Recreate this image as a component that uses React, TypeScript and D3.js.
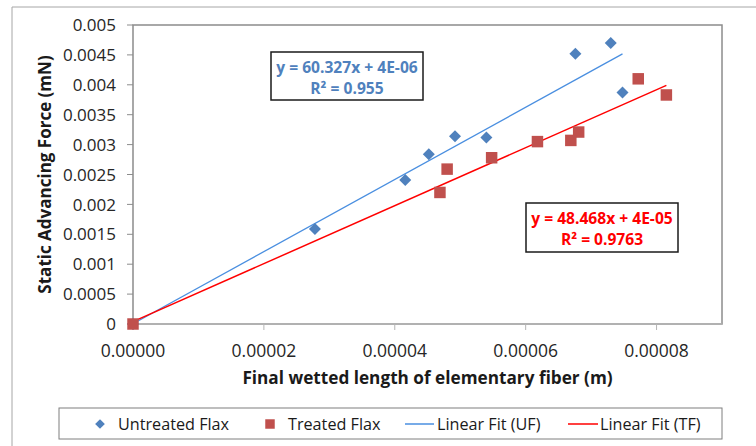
import React from 'react';
import * as d3 from 'd3';

const width = 756;
const height = 446;
const margin = { top: 25, right: 34, bottom: 122, left: 133 };

// Untreated flax (blue diamonds)
const untreatedX = [0, 2.78e-5, 4.16e-5, 4.52e-5, 4.92e-5, 5.4e-5, 6.76e-5, 7.3e-5, 7.48e-5];
const untreatedY = [0, 0.00159, 0.00241, 0.00284, 0.00314, 0.00312, 0.00452, 0.0047, 0.00387];

// Treated flax (red squares)
const treatedX = [0, 4.69e-5, 4.8e-5, 5.48e-5, 6.18e-5, 6.69e-5, 6.81e-5, 7.72e-5, 8.15e-5];
const treatedY = [0, 0.0022, 0.00259, 0.00278, 0.00305, 0.00307, 0.00321, 0.0041, 0.00383];

// linear fits shown in the chart
const ufFit = { slope: 60.327, intercept: 4e-6, label: 'y = 60.327x + 4E-06', r2: 'R² = 0.955' };
const tfFit = { slope: 48.468, intercept: 4e-5, label: 'y = 48.468x + 4E-05', r2: 'R² = 0.9763' };

const xTicks = [0, 0.00002, 0.00004, 0.00006, 0.00008];
const yTicks = [0, 0.0005, 0.001, 0.0015, 0.002, 0.0025, 0.003, 0.0035, 0.004, 0.0045, 0.005];
const yTickLabels = ['0', '0.0005', '0.001', '0.0015', '0.002', '0.0025', '0.003', '0.0035', '0.004', '0.0045', '0.005'];

const legendItems = ['Untreated Flax', 'Treated Flax', 'Linear Fit (UF)', 'Linear Fit (TF)'];

const blue = '#4f81bd';
const red = '#c0504d';
const fitBlue = '#4a8fe0';
const fitRed = '#ff0000';
const font = 'Open Sans, sans-serif';

function App() {
  const x = d3.scaleLinear().domain([0, 0.00009]).range([margin.left, width - margin.right]);
  const y = d3.scaleLinear().domain([0, 0.005]).range([height - margin.bottom, margin.top]);

  const line = d3
    .line<number>()
    .x((d) => x(d[0]))
    .y((d) => y(d[1]));

  const fitPath = (fit, xs) => {
    const x0 = d3.min(xs);
    const x1 = d3.max(xs);
    return line([
      [x0, fit.slope * x0 + fit.intercept],
      [x1, fit.slope * x1 + fit.intercept],
    ]);
  };

  const diamond = d3.symbol().type(d3.symbolDiamond2).size(92)();
  const square = d3.symbol().type(d3.symbolSquare).size(132)();

  const x0 = x(0);
  const y0 = y(0);

  return (
    <svg width={width} height={height} style={{ position: 'absolute', left: 0, top: 0, background: '#fff' }}>
      {/* outer chart frame */}
      <line x1={12} x2={width} y1={7} y2={7} stroke="#a6a6a6" />
      <line x1={12} x2={12} y1={7} y2={height} stroke="#a6a6a6" />

      {/* plot area */}
      <rect
        x={x0}
        y={margin.top}
        width={width - margin.right - x0}
        height={y0 - margin.top}
        fill="none"
        stroke="#8c8c8c"
        strokeWidth={1.5}
      />

      {/* y ticks */}
      {yTicks.map((t, i) => (
        <g key={i}>
          <line x1={x0 - 6} x2={x0} y1={y(t)} y2={y(t)} stroke="#8c8c8c" />
          <text
            x={x0 - 17}
            y={y(t)}
            dy="0.36em"
            textAnchor="end"
            fontFamily={font}
            fontSize={17}
            fill="#262626"
          >
            {yTickLabels[i]}
          </text>
        </g>
      ))}

      {/* x axis */}
      <line x1={x0} x2={width - margin.right} y1={y0} y2={y0} stroke="#b5b5b5" strokeWidth={1.5} />
      {xTicks.map((t, i) => (
        <g key={i}>
          <line x1={x(t)} x2={x(t)} y1={y0} y2={y0 + 6} stroke="#b5b5b5" />
          <text
            x={x(t)}
            y={y0 + 27}
            dy="0.36em"
            textAnchor="middle"
            fontFamily={font}
            fontSize={17.5}
            fill="#262626"
          >
            {t.toFixed(5)}
          </text>
        </g>
      ))}

      {/* axis titles */}
      <text
        x={(x0 + width - margin.right) / 2}
        y={378}
        dy="0.36em"
        textAnchor="middle"
        fontFamily={font}
        fontWeight="bold"
        fontSize={17.2}
        fill="#1a1a1a"
      >
        Final wetted length of elementary fiber (m)
      </text>
      <text
        transform={`translate(45, ${(margin.top + y0) / 2}) rotate(-90)`}
        dy="0.36em"
        textAnchor="middle"
        fontFamily={font}
        fontWeight="bold"
        fontSize={17}
        fill="#1a1a1a"
      >
        Static Advancing Force (mN)
      </text>

      {/* fit lines */}
      <path d={fitPath(ufFit, untreatedX)} stroke={fitBlue} strokeWidth={1.3} fill="none" />
      <path d={fitPath(tfFit, treatedX)} stroke={fitRed} strokeWidth={1.5} fill="none" />

      {/* markers */}
      {untreatedX.map((v, i) => (
        <path key={'u' + i} d={diamond} transform={`translate(${x(v)},${y(untreatedY[i])})`} fill={blue} />
      ))}
      {treatedX.map((v, i) => (
        <path key={'t' + i} d={square} transform={`translate(${x(v)},${y(treatedY[i])})`} fill={red} />
      ))}

      {/* equation labels */}
      <g>
        <rect x={271} y={52} width={152} height={48} fill="#fff" stroke="#1a1a1a" strokeWidth={1.5} />
        <text x={347} y={67} dy="0.36em" textAnchor="middle" fontFamily={font} fontWeight="bold" fontSize={15.6} fill={blue}>
          {ufFit.label}
        </text>
        <text x={347} y={88} dy="0.36em" textAnchor="middle" fontFamily={font} fontWeight="bold" fontSize={15.6} fill={blue}>
          {ufFit.r2}
        </text>
      </g>
      <g>
        <rect x={526} y={203} width={152} height={49} fill="#fff" stroke="#1a1a1a" strokeWidth={1.5} />
        <text x={602} y={218} dy="0.36em" textAnchor="middle" fontFamily={font} fontWeight="bold" fontSize={15.6} fill={fitRed}>
          {tfFit.label}
        </text>
        <text x={602} y={239} dy="0.36em" textAnchor="middle" fontFamily={font} fontWeight="bold" fontSize={15.6} fill={fitRed}>
          {tfFit.r2}
        </text>
      </g>

      {/* legend */}
      <rect x={59} y={408} width={663} height={31} fill="#fff" stroke="#7f7f7f" />
      <path d={d3.symbol().type(d3.symbolDiamond2).size(60)()} transform="translate(100,424)" fill={blue} />
      <text x={118} y={424} dy="0.36em" fontFamily={font} fontSize={16.2} fill="#1a1a1a">
        {legendItems[0]}
      </text>
      <path d={d3.symbol().type(d3.symbolSquare).size(90)()} transform="translate(270,424)" fill={red} />
      <text x={288} y={424} dy="0.36em" fontFamily={font} fontSize={16.2} fill="#1a1a1a">
        {legendItems[1]}
      </text>
      <line x1={405} x2={434} y1={424} y2={424} stroke={fitBlue} strokeWidth={1.5} />
      <text x={437} y={424} dy="0.36em" fontFamily={font} fontSize={16.2} fill="#1a1a1a">
        {legendItems[2]}
      </text>
      <line x1={568} x2={598} y1={424} y2={424} stroke={fitRed} strokeWidth={1.5} />
      <text x={600} y={424} dy="0.36em" fontFamily={font} fontSize={16.2} fill="#1a1a1a">
        {legendItems[3]}
      </text>
    </svg>
  );
}

export default App;
